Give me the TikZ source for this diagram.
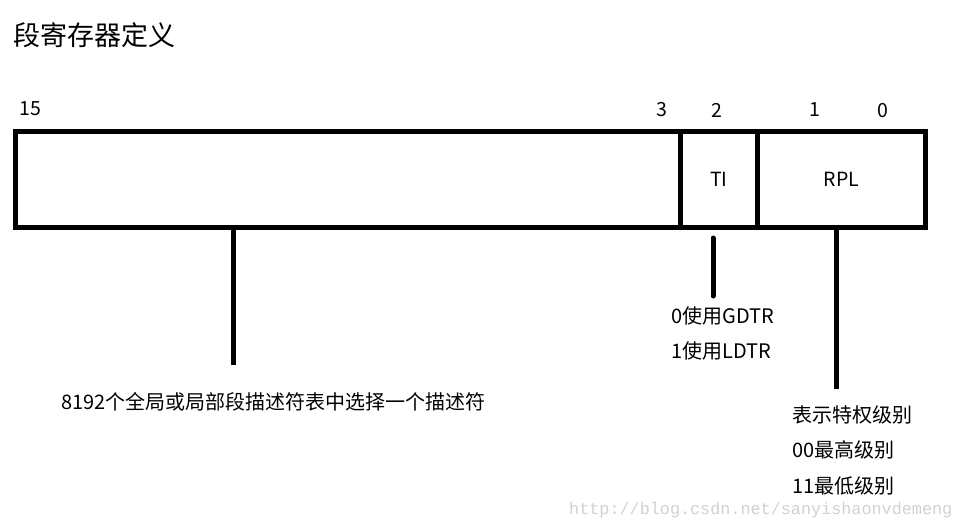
\documentclass[tikz,border=0pt]{standalone}
\usepackage{fontspec}
\newfontfamily\cjk{Noto Sans CJK SC}
\newfontfamily\wmfont{Liberation Mono}
\begin{document}
\begin{tikzpicture}[x=1pt,y=-1pt,
  cell/.style={draw=black,line width=5pt,inner sep=0pt,anchor=north west},
  stem/.style={line width=5pt,line cap=round},
  lbl/.style={font=\cjk\fontsize{19.5}{22}\selectfont,inner sep=0pt},
  bitlbl/.style={font=\cjk\fontsize{19.5}{22}\selectfont,inner sep=0pt},
  txt/.style={font=\cjk\fontsize{20}{22}\selectfont,inner sep=0pt,anchor=west}]
\useasboundingbox (0,0) rectangle (960,531);
\node[font=\cjk\fontsize{27}{30}\selectfont,inner sep=0pt,anchor=west] (title) at (13,35) {段寄存器定义};
% register cells
\node[cell,minimum width=665pt,minimum height=96pt] (field) at (13,129) {};
\node[cell,minimum width=77pt,minimum height=96pt] (ti) at (678,129) {};
\node[cell,minimum width=168pt,minimum height=96pt] (rpl) at (755,129) {};
\node[lbl] (tit) at (ti.center) {TI};
\node[lbl] (rplt) at (rpl.center) {RPL};
% bit labels
\node[bitlbl] (b15) at (30,109) {15};
\node[bitlbl] (b3) at (662,110) {3};
\node[bitlbl] (b2) at (717,110) {2};
\node[bitlbl] (b1) at (815,110) {1};
\node[bitlbl] (b0) at (883,111) {0};
% texts
\node[txt] (idx) at (61,402) {8192个全局或局部段描述符表中选择一个描述符};
\node[txt] (ti0) at (671,316) {0使用GDTR};
\node[txt] (ti1) at (671,351) {1使用LDTR};
\node[txt] (r1) at (792,415) {表示特权级别};
\node[txt] (r2) at (792,450) {00最高级别};
\node[txt] (r3) at (792,486) {11最低级别};
% stems
\coordinate (s1a) at (233,225);
\coordinate (s1b) at (233,365);
\coordinate (s2a) at (713,238);
\coordinate (s2b) at (713,296);
\coordinate (s3a) at (836,225);
\coordinate (s3b) at (836,389);
\draw[line width=5pt] (s1a) -- (s1b);
\draw[stem] (s2a) -- (s2b);
\draw[line width=5pt] (s3a) -- (s3b);
% watermark
\node[font=\wmfont\fontsize{16.8}{18}\selectfont,text=black!18,inner sep=0pt,anchor=west] (wm) at (569,510) {http://blog.csdn.net/sanyishaonvdemeng};
\end{tikzpicture}
\end{document}
